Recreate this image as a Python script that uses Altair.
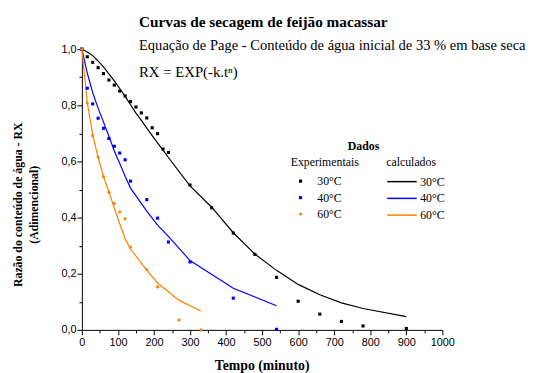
import altair as alt
import pandas as pd

# ---- data ----
series = ["30°C", "40°C", "60°C"]
calc_keys = ["calc 30°C", "calc 40°C", "calc 60°C"]
colors = ["#000000", "#0000ff", "#ff8000"]
shapes = ["square", "square", "circle"]
sizes = [10, 10, 60]

t30 = [0, 15, 30, 45, 60, 75, 90, 105, 120, 135, 150, 165, 180, 195, 210, 225, 240,
       300, 360, 420, 480, 540, 600, 660, 720, 780, 900]
rx30 = [1.0, 0.973, 0.953, 0.934, 0.913, 0.89, 0.872, 0.851, 0.833, 0.813, 0.794, 0.773,
        0.755, 0.720, 0.699, 0.644, 0.632, 0.516, 0.435, 0.345, 0.269, 0.187, 0.102,
        0.056, 0.030, 0.014, 0.005]
calc30 = [1.0, 0.99, 0.977, 0.958, 0.937, 0.912, 0.887, 0.86, 0.832, 0.802, 0.772, 0.746,
          0.719, 0.692, 0.666, 0.640, 0.614, 0.513, 0.437, 0.346, 0.27, 0.212, 0.162,
          0.125, 0.096, 0.076, 0.047]

t40 = [0, 15, 30, 45, 60, 75, 90, 105, 120, 135, 180, 210, 240, 300, 420, 540]
rx40 = [1.0, 0.861, 0.805, 0.754, 0.718, 0.682, 0.654, 0.630, 0.606, 0.530, 0.464,
        0.398, 0.313, 0.242, 0.113, 0.002]
calc40 = [1.0, 0.915, 0.845, 0.79, 0.74, 0.69, 0.637, 0.593, 0.547, 0.505, 0.423,
          0.373, 0.333, 0.247, 0.148, 0.086]

t60 = [0, 15, 30, 45, 60, 75, 90, 105, 120, 135, 180, 210, 270, 330]
rx60 = [1.0, 0.808, 0.692, 0.616, 0.546, 0.490, 0.450, 0.421, 0.396, 0.295, 0.215,
        0.153, 0.035, 0.0]
calc60 = [1.0, 0.81, 0.695, 0.615, 0.546, 0.492, 0.434, 0.378, 0.325, 0.288, 0.213,
          0.167, 0.105, 0.067]

x_ticks = list(range(0, 1001, 50))
y_ticks = [i / 10 for i in range(0, 11)]

title_lines = ["Curvas de secagem de feijão macassar",
               "Equação de Page - Conteúdo de água inicial de 33 % em base seca",
               "RX = EXP(-k.tⁿ)"]
x_title = "Tempo (minuto)"
y_title = ["Razão do conteúdo de água - RX", "(Adimencional)"]
legend_head = "Dados"

# ---- tables ----
exp_rows, calc_rows = [], []
for name, key, ts, ex, ca in zip(series, calc_keys, [t30, t40, t60], [rx30, rx40, rx60],
                                 [calc30, calc40, calc60]):
    for t, e in zip(ts, ex):
        exp_rows.append({"Tempo": t, "RX": e, "Experimentais": name})
    for t, c in zip(ts, ca):
        calc_rows.append({"Tempo": t, "RX": c, "calculados": key})
exp_df = pd.DataFrame(exp_rows)
calc_df = pd.DataFrame(calc_rows)

SERIF = "Liberation Serif"
SANS = "Liberation Sans"

x_axis = alt.Axis(values=x_ticks, format="d", title=None, grid=False,
                  labelExpr="datum.value % 100 === 0 ? datum.label : ''",
                  tickSize={"condition": {"test": "datum.value % 100 === 0", "value": 5}, "value": 3},
                  labelPadding=2, labelFlush=False, labelOverlap=False)
y_axis = alt.Axis(values=y_ticks, title=None, grid=False,
                  labelExpr="round(datum.value*10) % 2 === 0 ? replace(format(datum.value, '.1f'), '.', ',') : ''",
                  tickSize={"condition": {"test": "round(datum.value*10) % 2 === 0", "value": 5}, "value": 3},
                  labelPadding=1, labelFlush=False, labelOverlap=False)
x_scale = alt.Scale(domain=[0, 1000], nice=False)
y_scale = alt.Scale(domain=[0, 1], nice=False)

lines = alt.Chart(calc_df).mark_line(strokeWidth=1.2, clip=False).encode(
    x=alt.X("Tempo:Q", scale=x_scale, axis=x_axis),
    y=alt.Y("RX:Q", scale=y_scale, axis=y_axis),
    stroke=alt.Stroke("calculados:N",
                      scale=alt.Scale(domain=calc_keys, range=colors),
                      legend=alt.Legend(orient="none", legendX=309, legendY=110,
                                        symbolType="M-2,0H2", symbolSize=225,
                                        symbolOffset=7.5, labelExpr="replace(datum.label, 'calc ', '')",
                                        symbolStrokeWidth=1.5, labelOffset=10,
                                        rowPadding=2, titlePadding=4)),
    order="Tempo:Q",
)

exp_legend = alt.Legend(orient="none", legendX=212, legendY=110,
                        labelOffset=11, symbolOffset=4,
                        rowPadding=4.7, titlePadding=6)

points = alt.Chart(exp_df).mark_point(filled=True, opacity=1, clip=False, strokeWidth=0).encode(
    x=alt.X("Tempo:Q", scale=x_scale, axis=x_axis),
    y=alt.Y("RX:Q", scale=y_scale, axis=y_axis),
    color=alt.Color("Experimentais:N", scale=alt.Scale(domain=series, range=colors), legend=exp_legend),
    shape=alt.Shape("Experimentais:N", scale=alt.Scale(domain=series, range=shapes), legend=exp_legend),
    size=alt.Size("Experimentais:N", scale=alt.Scale(domain=series, range=sizes), legend=exp_legend),
)

def text_layer(txt, x, y, size, weight="normal", align="left", baseline="alphabetic", angle=0, font=SERIF):
    return alt.Chart(pd.DataFrame({"t": [txt]})).mark_text(
        font=font, fontSize=size, fontWeight=weight, align=align, baseline=baseline,
        angle=angle, color="black"
    ).encode(x=alt.value(x), y=alt.value(y), text="t:N")

texts = [
    text_layer(title_lines[0], 58, -23, 15.5, "bold"),
    text_layer(title_lines[1], 58, 1, 14.75),
    text_layer(title_lines[2], 58, 28, 15),
    text_layer(x_title, 183, 326, 14, "bold", align="center"),
    text_layer(y_title[0], -65, 158, 12, "bold", align="center", baseline="middle", angle=270),
    text_layer(y_title[1], -49, 158, 12, "bold", align="center", baseline="middle", angle=270),
    text_layer(legend_head, 286, 98, 12, "bold", align="center", baseline="middle"),
]

chart = alt.layer(lines, points, *texts).properties(
    width=366, height=285,
    autosize=alt.AutoSizeParams(type="none"),
    padding={"left": 75, "top": 39, "right": 90, "bottom": 42},
).configure_view(stroke=None).configure_axis(
    domainColor="black", tickColor="black", labelColor="black",
    labelFont=SANS, labelFontSize=11, domainWidth=1, tickWidth=1,
).configure_legend(
    labelFont=SERIF, labelFontSize=12, labelColor="black",
    titleFont=SERIF, titleFontSize=12, titleFontWeight="normal", titleColor="black",
    padding=0,
)

chart.save("out.html", embed_options={"renderer": "svg", "actions": False})
